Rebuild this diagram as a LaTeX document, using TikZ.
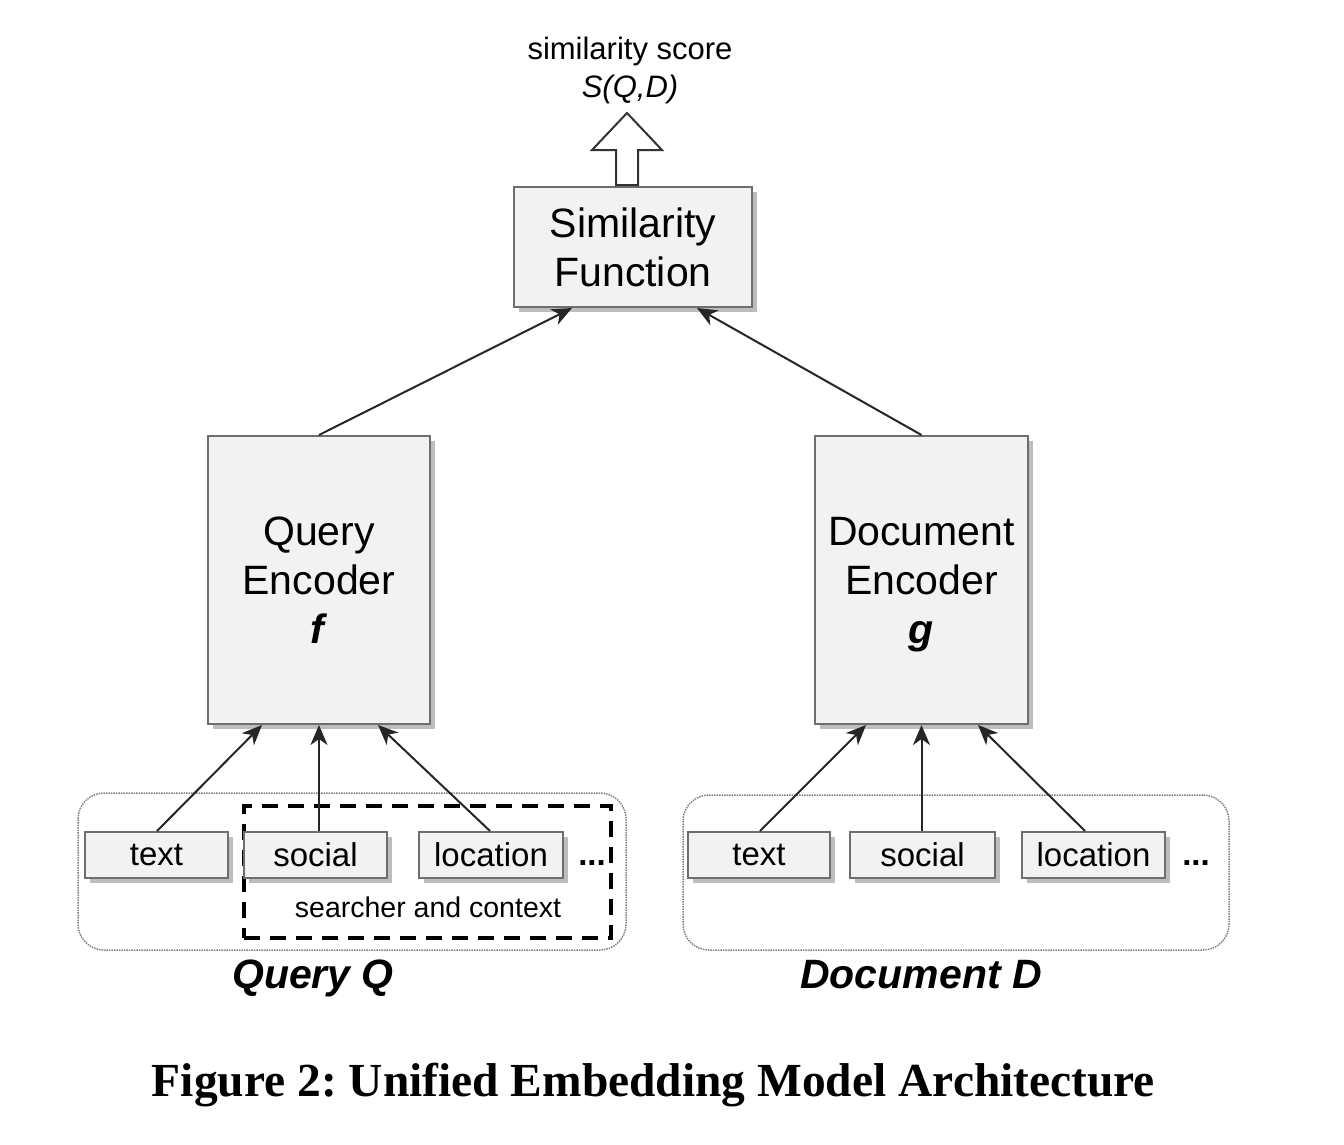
\documentclass[tikz,border=0pt]{standalone}
\usepackage{fontspec}
\setsansfont{Liberation Sans}
\newfontfamily\capfont{Liberation Serif}
\usetikzlibrary{arrows.meta,shadows,calc}
\definecolor{boxfill}{HTML}{F2F2F2}
\definecolor{boxline}{HTML}{6E6E6E}
\definecolor{shadowc}{HTML}{BDBDBD}
\frenchspacing
\begin{document}
\begin{tikzpicture}[x=1pt,y=-1pt,
  box/.style={draw=boxline, line width=2pt, fill=boxfill, inner sep=0pt,
    general shadow={fill=shadowc, shadow xshift=5pt, shadow yshift=-5pt},
    font=\sffamily, align=center},
  bigbox/.style={box, font=\sffamily\fontsize{41}{49}\selectfont},
  featbox/.style={box, minimum height=46pt, font=\sffamily\fontsize{33}{40}\selectfont},
  groupbox/.style={draw=gray, line width=1.5pt, dash pattern=on 1.5pt off 1pt, rounded corners=26pt, inner sep=0pt},
  ctxbox/.style={draw=black, line width=3.5pt, dash pattern=on 16pt off 10pt, inner sep=0pt},
  arr/.style={draw=black!85, line width=2pt, -{Stealth[length=20pt,width=17pt,inset=6pt]}},
  lbl/.style={font=\sffamily\fontsize{31}{38}\selectfont, align=center, inner sep=0pt},
  grouplbl/.style={font=\sffamily\bfseries\itshape\fontsize{41}{48}\selectfont, inner sep=0pt, anchor=base},
  dots/.style={font=\sffamily\bfseries\fontsize{33}{40}\selectfont, inner sep=0pt, anchor=base}
]
\useasboundingbox (0,0) rectangle (1344,1144);

% group boxes
\node[groupbox, minimum width=548pt, minimum height=157pt] (qgroup) at (352,871.5) {};
\node[groupbox, minimum width=546pt, minimum height=155pt] (dgroup) at (956,872.5) {};
\node[ctxbox, minimum width=367pt, minimum height=132pt] (ctx) at (427.5,872) {};

% main boxes
\node[bigbox, minimum width=238pt, minimum height=120pt] (sim) at (633,247) {Similarity\\Function};
\node[bigbox, minimum width=222pt, minimum height=288pt] (qe) at (319,580) {Query\\Encoder\\\textbf{\textit{f}}};
\node[bigbox, minimum width=213pt, minimum height=288pt] (de) at (921.5,580) {Document\\Encoder\\\raisebox{0pt}[\height][0pt]{\textbf{\textit{g}}}};

% feature boxes
\node[featbox, minimum width=143pt] (qtext) at (156.5,855) {text};
\node[featbox, minimum width=143pt] (qsocial) at (315.5,855) {social};
\node[featbox, minimum width=144pt] (qloc) at (491,855) {location};
\node[dots] (qdots) at (592,865) {...};
\node[featbox, minimum width=142pt] (dtext) at (759,855) {text};
\node[featbox, minimum width=145pt] (dsocial) at (922.5,855) {social};
\node[featbox, minimum width=143pt] (dloc) at (1093.5,855) {location};
\node[dots] (ddots) at (1196,865) {...};

\node[lbl, font=\sffamily\fontsize{28.5}{34}\selectfont] (ctxlbl) at (428,907) {searcher and context};
\node[grouplbl] (qlbl) at (313,988) {Query Q};
\node[grouplbl] (dlbl) at (921,988) {Document D};

% score label and hollow arrow
\node[lbl] (score) at (630,70) {similarity score\\\textit{S(Q,D)}};
\coordinate (hb) at ([xshift=-6pt]sim.north);
\draw[line width=2pt, draw=black!80, fill=white]
  ($(hb)+(-11,-1)$) -- ($(hb)+(-11,-36)$) -- ($(hb)+(-35,-36)$) -- ($(hb)+(0,-73)$)
  -- ($(hb)+(35,-36)$) -- ($(hb)+(11,-36)$) -- ($(hb)+(11,-1)$) -- cycle;

% connectors
\draw[arr] (qe.north) -- ([xshift=-61pt]sim.south);
\draw[arr] (de.north) -- ([xshift=64pt]sim.south);
\draw[arr] ([xshift=0.5pt]qtext.north) -- ([xshift=-57pt]qe.south);
\draw[arr] (qe.south |- qsocial.north) -- (qe.south);
\draw[arr] ([xshift=-1pt]qloc.north) -- ([xshift=59pt]qe.south);
\draw[arr] ([xshift=1pt]dtext.north) -- ([xshift=-55.5pt]de.south);
\draw[arr] (de.south |- dsocial.north) -- (de.south);
\draw[arr] ([xshift=-8.5pt]dloc.north) -- ([xshift=56.5pt]de.south);

% caption
\node[inner sep=0pt] (cap) at (653.5,1085) {\resizebox{1003pt}{!}{\capfont\bfseries Figure 2: Unified Embedding Model Architecture}};
\end{tikzpicture}
\end{document}
